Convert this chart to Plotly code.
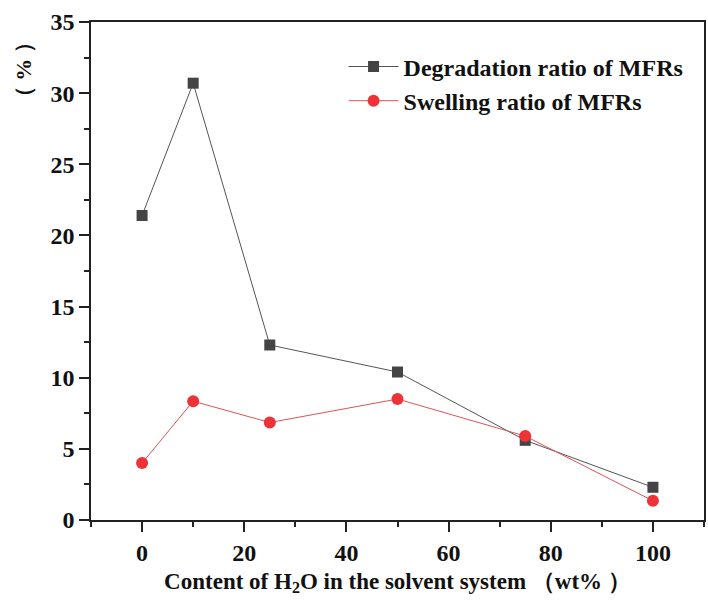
import plotly.graph_objects as go

water = [0, 10, 25, 50, 75, 100]
degradation = [21.4, 30.7, 12.3, 10.4, 5.6, 2.3]
swelling = [4.0, 8.35, 6.85, 8.5, 5.9, 1.35]

x_ticks = [0, 20, 40, 60, 80, 100]
y_ticks = [0, 5, 10, 15, 20, 25, 30, 35]

FONT = "Liberation Serif"

fig = go.Figure()
fig.add_trace(go.Scatter(
    x=water, y=degradation, mode="lines+markers", name="<b>Degradation ratio of MFRs</b>",
    line=dict(color="#555555", width=1),
    marker=dict(symbol="square", size=11, color="#444444"),
))
fig.add_trace(go.Scatter(
    x=water, y=swelling, mode="lines+markers", name="<b>Swelling ratio of MFRs</b>",
    line=dict(color="#d9545a", width=1),
    marker=dict(symbol="circle", size=12, color="#ee3338"),
))

fig.update_layout(
    width=708, height=601,
    margin=dict(l=91, r=2, t=22, b=81),
    paper_bgcolor="white", plot_bgcolor="white",
    font=dict(family=FONT, color="#111111"),
    showlegend=True,
    legend=dict(x=0.412, y=0.955, xanchor="left", yanchor="top",
                font=dict(family=FONT, size=24, color="#111111"),
                bgcolor="rgba(0,0,0,0)", tracegroupgap=0, itemwidth=50),
    xaxis=dict(
        range=[-10, 110], tickvals=x_ticks, ticktext=[f"<b>{v}</b>" for v in x_ticks],
        ticks="outside", ticklen=10, tickwidth=1.5, tickcolor="#222",
        showline=True, linecolor="#222", linewidth=1.5, mirror=True,
        showgrid=False, zeroline=False,
        tickfont=dict(family=FONT, size=24, color="#111"),
        minor=dict(tickvals=[-10, 10, 30, 50, 70, 90, 110], ticks="outside", ticklen=5, tickcolor="#222", tickwidth=1.5),
        title=dict(text="<b>Content of H<sub>2</sub>O in the solvent system （wt% ）</b>",
                   font=dict(family=FONT, size=23, color="#111"), standoff=8),
    ),
    yaxis=dict(
        range=[0, 35], tickvals=y_ticks, ticktext=[f"<b>{v}</b>" for v in y_ticks],
        ticks="outside", ticklen=10, tickwidth=1.5, tickcolor="#222",
        showline=True, linecolor="#222", linewidth=1.5, mirror=True,
        showgrid=False, zeroline=False,
        tickfont=dict(family=FONT, size=24, color="#111"),
        minor=dict(tickvals=[2.5, 7.5, 12.5, 17.5, 22.5, 27.5, 32.5], ticks="outside", ticklen=5, tickcolor="#222", tickwidth=1.5),
    ),
    annotations=[dict(
        text="<b>（ % ）</b>", textangle=-90, showarrow=False,
        xref="paper", yref="paper", x=-0.111, y=0.905,
        xanchor="center", yanchor="middle",
        font=dict(family=FONT, size=22, color="#111"),
    )],
)

fig.write_html("out.html")
